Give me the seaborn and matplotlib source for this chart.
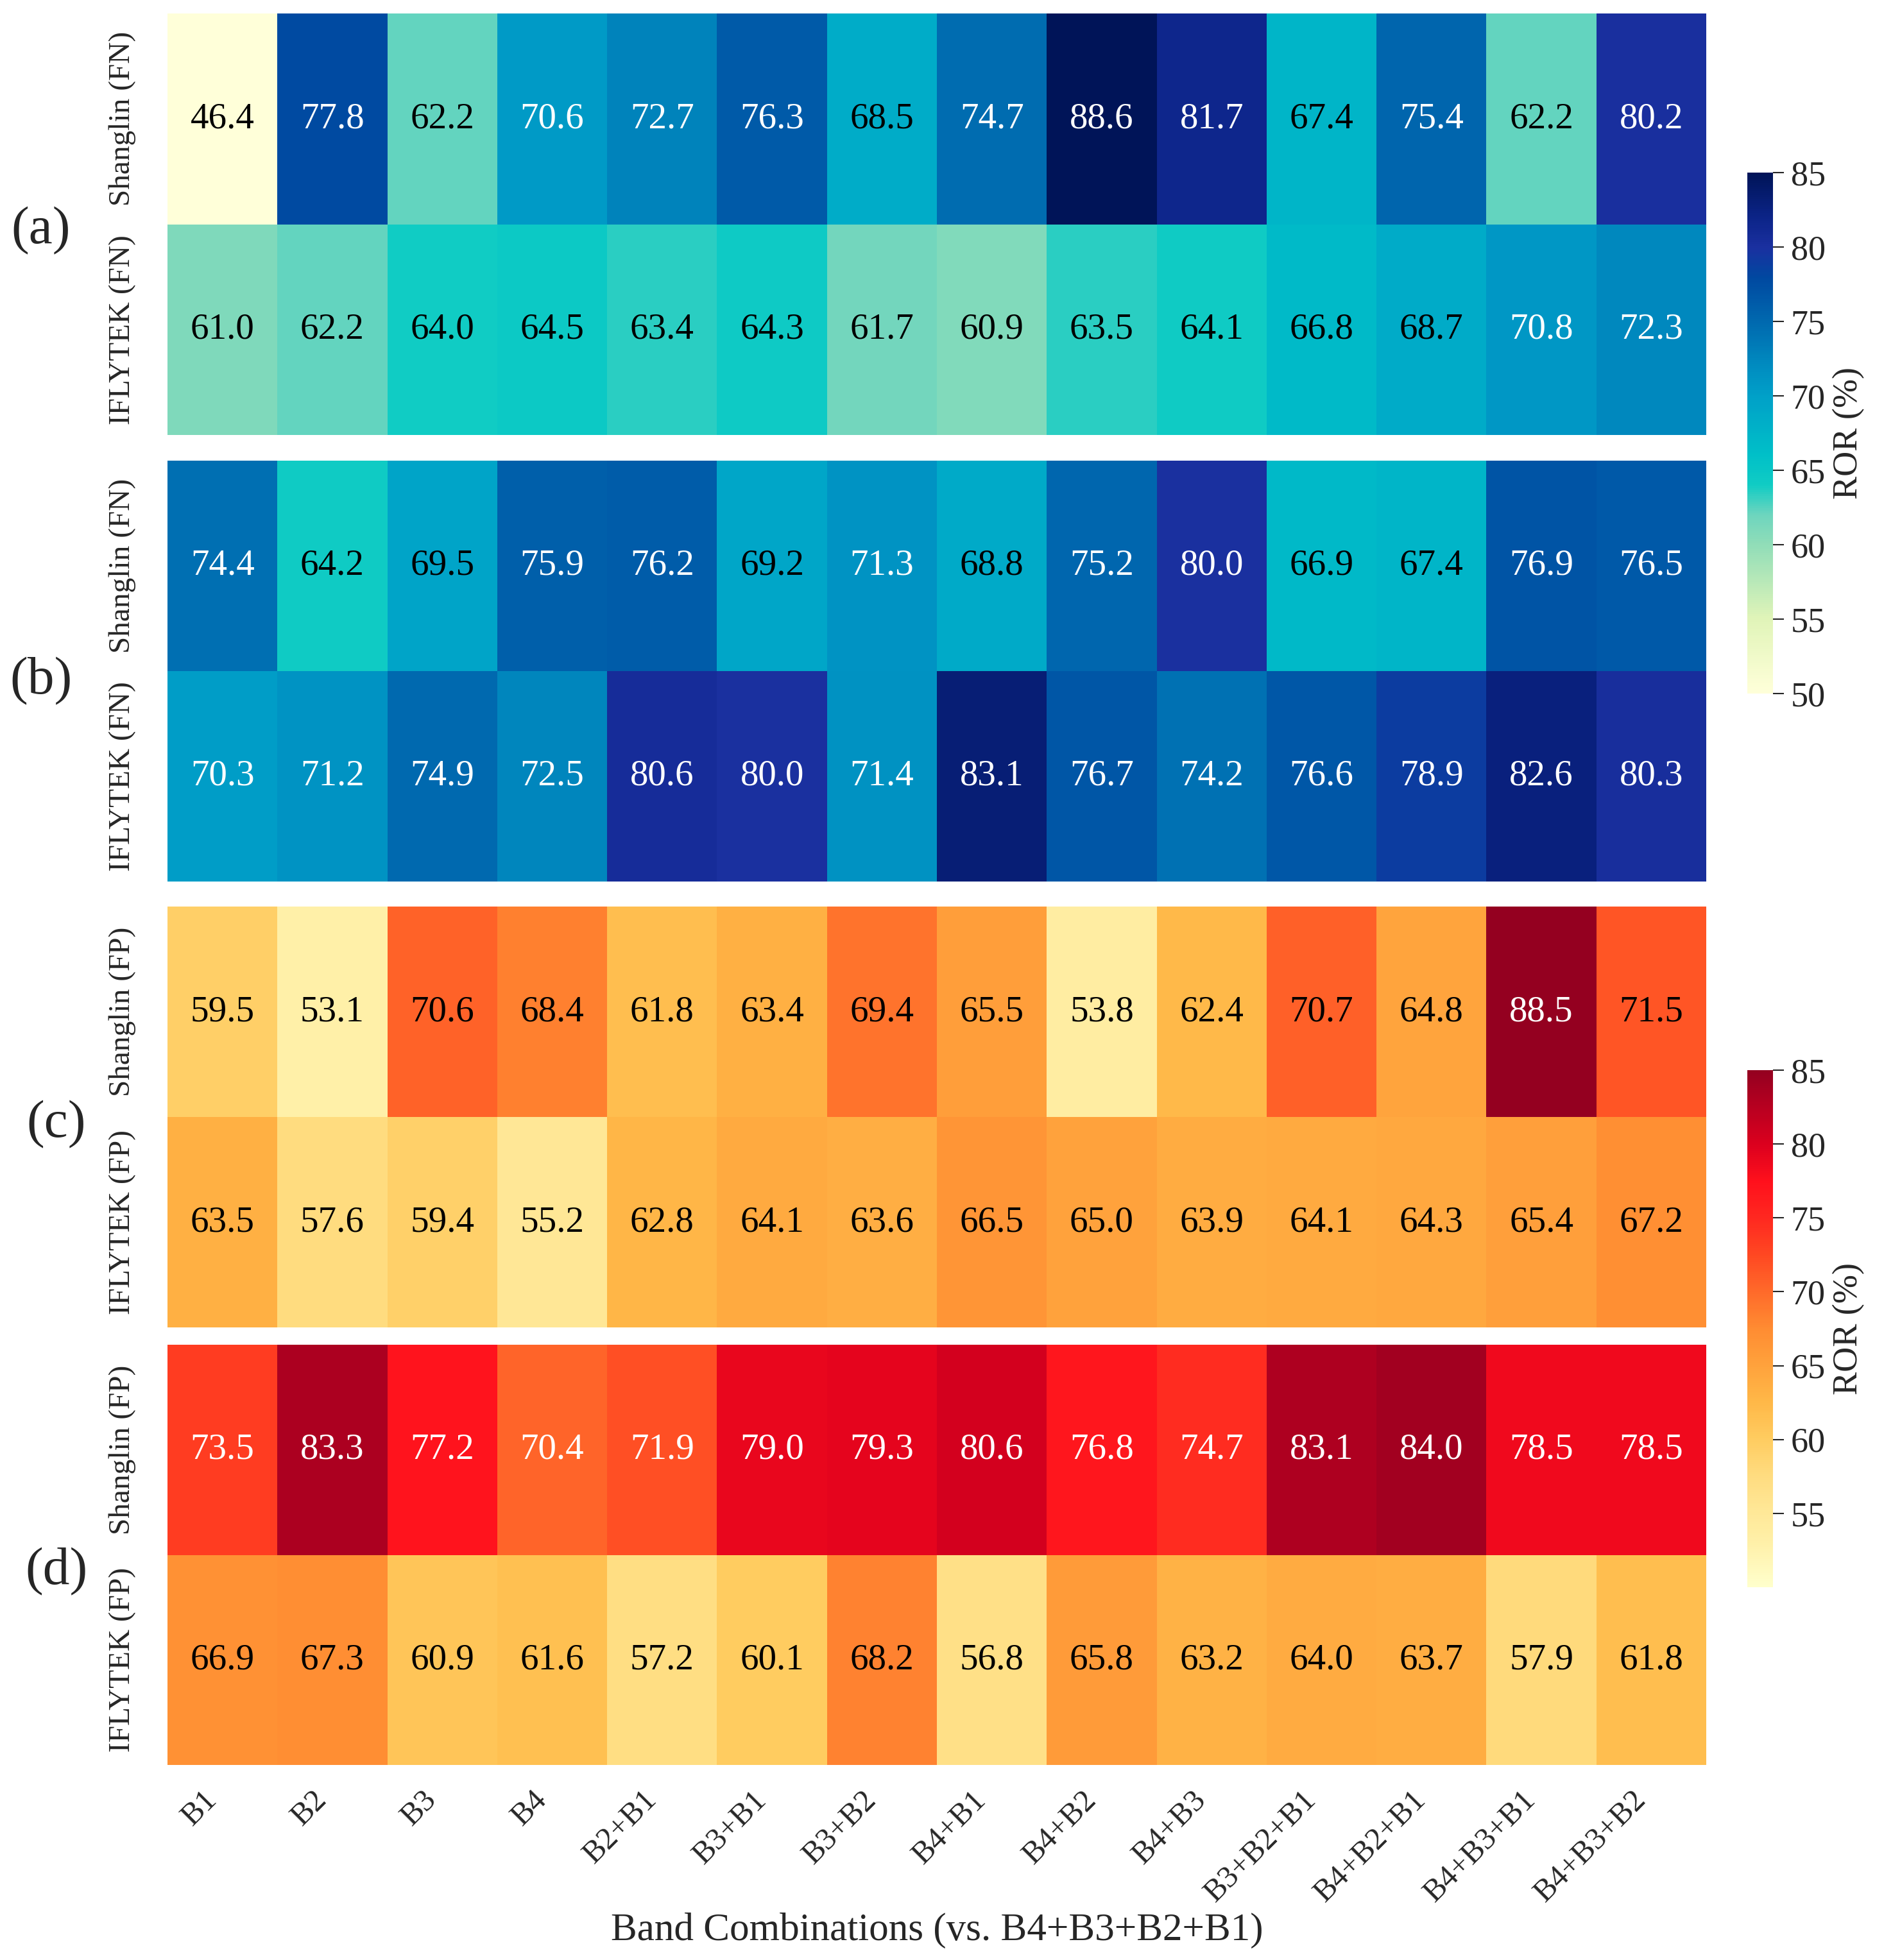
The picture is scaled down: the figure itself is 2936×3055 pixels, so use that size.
import numpy as np
import pandas as pd
import matplotlib
matplotlib.use("Agg")
import matplotlib.pyplot as plt
from matplotlib.colors import LinearSegmentedColormap
import seaborn as sns

# ---------------------------------------------------------------- data
bands = ["B1", "B2", "B3", "B4", "B2+B1", "B3+B1", "B3+B2", "B4+B1", "B4+B2",
         "B4+B3", "B3+B2+B1", "B4+B2+B1", "B4+B3+B1", "B4+B3+B2"]

a_shanglin = [46.4, 77.8, 62.2, 70.6, 72.7, 76.3, 68.5, 74.7, 88.6, 81.7, 67.4, 75.4, 62.2, 80.2]
a_iflytek = [61.0, 62.2, 64.0, 64.5, 63.4, 64.3, 61.7, 60.9, 63.5, 64.1, 66.8, 68.7, 70.8, 72.3]
b_shanglin = [74.4, 64.2, 69.5, 75.9, 76.2, 69.2, 71.3, 68.8, 75.2, 80.0, 66.9, 67.4, 76.9, 76.5]
b_iflytek = [70.3, 71.2, 74.9, 72.5, 80.6, 80.0, 71.4, 83.1, 76.7, 74.2, 76.6, 78.9, 82.6, 80.3]
c_shanglin = [59.5, 53.1, 70.6, 68.4, 61.8, 63.4, 69.4, 65.5, 53.8, 62.4, 70.7, 64.8, 88.5, 71.5]
c_iflytek = [63.5, 57.6, 59.4, 55.2, 62.8, 64.1, 63.6, 66.5, 65.0, 63.9, 64.1, 64.3, 65.4, 67.2]
d_shanglin = [73.5, 83.3, 77.2, 70.4, 71.9, 79.0, 79.3, 80.6, 76.8, 74.7, 83.1, 84.0, 78.5, 78.5]
d_iflytek = [66.9, 67.3, 60.9, 61.6, 57.2, 60.1, 68.2, 56.8, 65.8, 63.2, 64.0, 63.7, 57.9, 61.8]

fn_rows = ["Shanglin (FN)", "IFLYTEK (FN)"]
fp_rows = ["Shanglin (FP)", "IFLYTEK (FP)"]

# ---------------------------------------------------------------- colour maps (saturated YlGnBu / YlOrRd look)
VMIN, VMAX = 50, 85

def make_cmap(name, nodes):
    return LinearSegmentedColormap.from_list(
        name, [((v - VMIN) / (VMAX - VMIN), c) for v, c in nodes])

blue_cmap = make_cmap("blues", [
    (50, "#FFFFD9"), (55, "#E0F4B8"), (60, "#90DDB8"), (62, "#6DD5BE"),
    (64, "#10CCC4"), (66, "#00C0C8"), (68, "#00B0C8"), (70, "#00A0C8"),
    (72, "#008CC0"), (74, "#0074B4"), (76, "#005EAA"), (78, "#0048A0"),
    (80, "#1A30A0"), (82, "#0C2488"), (85, "#001458")])
red_cmap = make_cmap("reds", [
    (50, "#FFFFCC"), (53, "#FFF0A8"), (55, "#FFE898"), (57.5, "#FFDC80"),
    (60, "#FFCC60"), (62.5, "#FFB848"), (65, "#FFA23C"), (67.5, "#FF8C32"),
    (70, "#FF6A2A"), (72.5, "#FF4822"), (75, "#FF2820"), (77.5, "#FF101C"),
    (80, "#DC001E"), (82.5, "#B80020"), (85, "#940020")])

panels = [
    ("(a)", pd.DataFrame([a_shanglin, a_iflytek], index=fn_rows, columns=bands), blue_cmap, 70),
    ("(b)", pd.DataFrame([b_shanglin, b_iflytek], index=fn_rows, columns=bands), blue_cmap, 70),
    ("(c)", pd.DataFrame([c_shanglin, c_iflytek], index=fp_rows, columns=bands), red_cmap, 80),
    ("(d)", pd.DataFrame([d_shanglin, d_iflytek], index=fp_rows, columns=bands), red_cmap, 70),
]

# ---------------------------------------------------------------- style
sns.set_style("white")
plt.rcParams["font.family"] = ["Liberation Serif", "DejaVu Serif"]

W, H = 2936, 3055
fig = plt.figure(figsize=(W / 100, H / 100), dpi=100)

def box(x0, y0, x1, y1):
    # pixel box (top-left origin) -> figure fraction rect
    return [x0 / W, 1 - y1 / H, (x1 - x0) / W, (y1 - y0) / H]

axes_px = [(261, 21, 2659, 678), (261, 718, 2659, 1374),
           (261, 1413, 2659, 2069), (261, 2096, 2659, 2751)]
cbar_px = {0: (2723, 269, 2763, 1081), 2: (2723, 1668, 2763, 2474)}
cbar_ticks = {0: [50, 55, 60, 65, 70, 75, 80, 85], 2: [55, 60, 65, 70, 75, 80, 85]}
label_pos = [(64, 360), (64, 1062), (88, 1753), (88, 2450)]

for i, (tag, df, cmap, white_above) in enumerate(panels):
    ax = fig.add_axes(box(*axes_px[i]))
    if i in cbar_px:
        cax = fig.add_axes(box(*cbar_px[i]))
        ax = sns.heatmap(df, ax=ax, cmap=cmap, vmin=VMIN, vmax=VMAX, annot=True, fmt=".1f",
                         annot_kws={"fontsize": 41}, cbar=True, cbar_ax=cax)
        cax.set_yticks(cbar_ticks[i])
        cax.tick_params(labelsize=39, length=12, width=1.5, pad=8)
        cax.set_ylabel("ROR (%)", fontsize=39, labelpad=8)
    else:
        ax = sns.heatmap(df, ax=ax, cmap=cmap, vmin=VMIN, vmax=VMAX, annot=True, fmt=".1f",
                         annot_kws={"fontsize": 41}, cbar=False)

    vals = df.values.flatten()
    for t, v in zip(ax.texts, vals):
        t.set_color("white" if v >= white_above else "black")

    ax.tick_params(axis="both", length=13, width=1.8, color="black")
    ax.tick_params(axis="y", pad=22)
    ax.set_yticklabels(df.index, rotation=90, va="center", fontsize=34)
    if i == 3:
        ax.set_xticklabels(bands, rotation=45, ha="right", fontsize=35)
        ax.tick_params(axis="x", pad=10)
        ax.set_xlabel("Band Combinations (vs. B4+B3+B2+B1)", fontsize=44, labelpad=6)
    else:
        ax.set_xticklabels([])
    ax.set_ylabel("")

    fig.text(label_pos[i][0] / W, 1 - label_pos[i][1] / H, tag, fontsize=60,
             ha="center", va="center")

plt.savefig("out.png", dpi=100)
